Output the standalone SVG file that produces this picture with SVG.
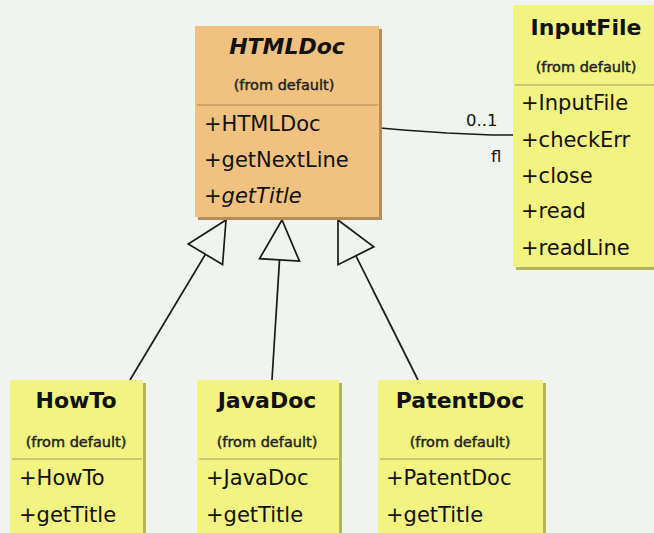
<svg xmlns="http://www.w3.org/2000/svg" width="654" height="533" viewBox="0 0 654 533">
  <style>
    .bg { fill: #eff4ef; }
    .cls-y { fill: #f3f382; }
    .cls-o { fill: #f1c27f; }
    .sh-y { fill: #b4b45c; }
    .sh-o { fill: #b68c58; }
    .sep-y { stroke: #c2ba72; stroke-width: 1.5; }
    .sep-o { stroke: #c99a62; stroke-width: 1.5; }
    .title { font-family: "DejaVu Sans", "Liberation Sans", sans-serif; font-size: 22px; font-weight: bold; fill: #111; text-anchor: middle; }
    .pkg { font-family: "DejaVu Sans", "Liberation Sans", sans-serif; font-size: 14.5px; fill: #222; stroke: #222; stroke-width: 0.45; text-anchor: middle; }
    .op { font-family: "DejaVu Sans", "Liberation Sans", sans-serif; font-size: 21px; fill: #111; }
    .lbl { font-family: "DejaVu Sans", "Liberation Sans", sans-serif; font-size: 16.5px; fill: #111; }
    .edge { stroke: #1a1a1a; stroke-width: 1.7; fill: none; }
  </style>
  <defs>
    <!-- hollow generalization arrowhead -->
    <marker id="gen" markerUnits="userSpaceOnUse" markerWidth="46" markerHeight="46" viewBox="-43 -23 46 46" refX="0" refY="0" orient="auto">
      <path d="M0,0 L-40,-20 L-40,20 Z" fill="#eff4ef" stroke="#1a1a1a" stroke-width="1.7" stroke-linejoin="miter"/>
    </marker>
  </defs>

  <rect class="bg" x="0" y="0" width="654" height="533"/>

  <!-- connectors -->
  <g id="connectors">
    <line class="edge" x1="130" y1="380" x2="226" y2="220" marker-end="url(#gen)"/>
    <line class="edge" x1="272" y1="380" x2="282" y2="220" marker-end="url(#gen)"/>
    <line class="edge" x1="418" y1="380" x2="338" y2="220" marker-end="url(#gen)"/>
    <polyline class="edge" points="380,128 403,130 447,133 492,135 513,135"/>
    <text class="lbl" x="466" y="126">0..1</text>
    <text class="lbl" x="491" y="162">fl</text>
  </g>

  <!-- HTMLDoc (abstract) -->
  <g id="HTMLDoc">
    <rect class="sh-o" x="198" y="29" width="184" height="191"/>
    <rect class="cls-o" x="195" y="26" width="184" height="191"/>
    <text class="title" x="287" y="54" font-style="italic">HTMLDoc</text>
    <text class="pkg" x="284" y="90">(from default)</text>
    <line class="sep-o" x1="197" y1="105" x2="378" y2="105"/>
    <text class="op" x="204" y="131">+HTMLDoc</text>
    <text class="op" x="204" y="167">+getNextLine</text>
    <text class="op" x="204" y="203" font-style="italic">+getTitle</text>
  </g>

  <!-- InputFile -->
  <g id="InputFile">
    <rect class="sh-y" x="516" y="8" width="150" height="262"/>
    <rect class="cls-y" x="513" y="5" width="150" height="262"/>
    <text class="title" x="586" y="35">InputFile</text>
    <text class="pkg" x="586" y="72">(from default)</text>
    <line class="sep-y" x1="515" y1="85" x2="654" y2="85"/>
    <text class="op" x="521" y="110">+InputFile</text>
    <text class="op" x="521" y="147">+checkErr</text>
    <text class="op" x="521" y="183">+close</text>
    <text class="op" x="521" y="218">+read</text>
    <text class="op" x="521" y="255">+readLine</text>
  </g>

  <!-- HowTo -->
  <g id="HowTo">
    <rect class="sh-y" x="13" y="383" width="133" height="160"/>
    <rect class="cls-y" x="10" y="380" width="133" height="160"/>
    <text class="title" x="76" y="408">HowTo</text>
    <text class="pkg" x="76" y="447">(from default)</text>
    <line class="sep-y" x1="12" y1="459" x2="142" y2="459"/>
    <text class="op" x="19" y="485">+HowTo</text>
    <text class="op" x="19" y="522">+getTitle</text>
  </g>

  <!-- JavaDoc -->
  <g id="JavaDoc">
    <rect class="sh-y" x="200" y="383" width="142" height="160"/>
    <rect class="cls-y" x="197" y="380" width="142" height="160"/>
    <text class="title" x="267" y="408">JavaDoc</text>
    <text class="pkg" x="267" y="447">(from default)</text>
    <line class="sep-y" x1="199" y1="459" x2="338" y2="459"/>
    <text class="op" x="206" y="485">+JavaDoc</text>
    <text class="op" x="206" y="522">+getTitle</text>
  </g>

  <!-- PatentDoc -->
  <g id="PatentDoc">
    <rect class="sh-y" x="381" y="383" width="165" height="160"/>
    <rect class="cls-y" x="378" y="380" width="165" height="160"/>
    <text class="title" x="460" y="408">PatentDoc</text>
    <text class="pkg" x="460" y="447">(from default)</text>
    <line class="sep-y" x1="380" y1="459" x2="542" y2="459"/>
    <text class="op" x="386" y="485">+PatentDoc</text>
    <text class="op" x="386" y="522">+getTitle</text>
  </g>
</svg>
